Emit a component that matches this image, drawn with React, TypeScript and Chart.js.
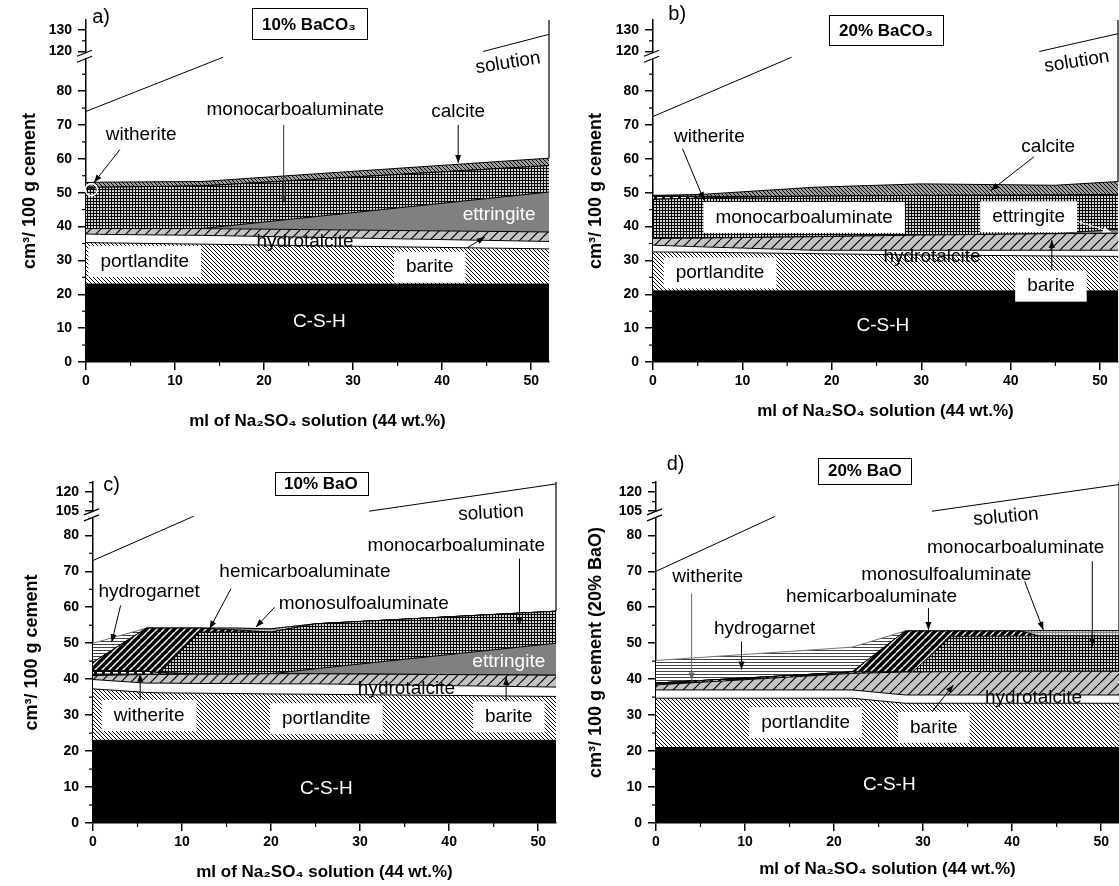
import React, { useEffect, useRef } from "react";
import { Chart, registerables } from "chart.js";

Chart.register(...registerables);

const FONT = '"Liberation Sans", Arial, Helvetica, sans-serif';

// ---------------- shared tick values ----------------
const xMajorTicks = [0, 10, 20, 30, 40, 50];
const xMinorTicks = [5, 15, 25, 35, 45];
const yMajorTicksBaCO3 = [0, 10, 20, 30, 40, 50, 60, 70, 80, 120, 130];
const yMinorTicksBaCO3 = [5, 15, 25, 35, 45, 55, 65, 75, 85, 125];
const yMajorTicksBaO = [0, 10, 20, 30, 40, 50, 60, 70, 80, 105, 120];
const yMinorTicksBaO = [5, 15, 25, 35, 45, 55, 65, 75, 112.5, 127.5];

// ---------------- panel a: 10% BaCO3 (phase volumes, cm3/100 g) ----------------
const xA = [0, 1.5, 13, 52];
const cshA = [23, 23, 23, 23];
const portlanditeA = [12.3, 12.2, 11.8, 10.4];
const hydrotalciteA = [2.5, 2.5, 2.6, 2.2];
const bariteA = [1.6, 1.7, 2.0, 2.8];
const ettringiteA = [0, 0, 0, 11.8];
const monocarboA = [11.6, 12.2, 12.6, 7.8];
const witheriteA = [0.8, 0, 0, 0];
const calciteA = [1.2, 1.5, 1.3, 2.2];
const solutionXA = [0, 15.4, 15.4, 44.6, 52];
const solutionYA: (number | null)[] = [74, 90, null, 120, 128];

// ---------------- panel b: 20% BaCO3 ----------------
const xB = [0, 5.5, 18, 30, 45, 52];
const cshB = [21, 21, 21, 21, 21, 21];
const portlanditeB = [11.5, 11.4, 11.0, 10.6, 10.3, 10.2];
const hydrotalciteB = [2.0, 1.6, 1.0, 1.4, 1.7, 1.8];
const bariteB = [2.0, 2.6, 4.0, 4.5, 4.9, 5.0];
const ettringiteB = [0, 0, 0, 0, 0, 1.2];
const monocarboB = [11.5, 11.9, 12.0, 11.7, 11.4, 10.3];
const witheriteB = [1.2, 0.4, 0, 0, 0, 0];
const calciteB = [0, 0.6, 2.6, 3.4, 2.9, 3.8];
const solutionXB = [0, 15.5, 15.5, 43.2, 52];
const solutionYB: (number | null)[] = [72.5, 90, null, 120, 128.3];

// ---------------- panel c: 10% BaO ----------------
const xC = [0, 6, 7.5, 12, 16, 20, 25, 52];
const cshC = [23, 23, 23, 23, 23, 23, 23, 23];
const portlanditeC = [14.3, 13.3, 13.2, 13.1, 13.0, 12.9, 12.8, 12.2];
const hydrotalciteC = [2.6, 2.6, 2.7, 2.7, 2.8, 2.8, 2.9, 2.6];
const bariteC = [1.1, 2.4, 2.4, 2.6, 2.6, 2.8, 2.8, 3.3];
const witheriteC = [1.3, 0.9, 0.5, 0, 0, 0, 0, 0];
const ettringiteC = [0, 0, 0, 0, 0, 0, 1.4, 8.9];
const monocarboC = [0, 0, 0, 11.7, 11.7, 11.6, 12.5, 8.9];
const hemicarboC = [2.4, 12.0, 12.4, 1.1, 0.6, 0, 0, 0];
const monosulfoC = [0, 0, 0, 0, 0.5, 0.9, 0, 0];
const hydrogarnetC = [5.3, 0, 0, 0, 0, 0, 0, 0];
const solutionXC = [0, 11.3, 11.3, 31, 52];
const solutionYC: (number | null)[] = [73, 85.3, null, 105, 126.5];

// ---------------- panel d: 20% BaO ----------------
const xD = [0, 22, 28, 28.8, 33.2, 41, 43, 52];
const cshD = [21, 21, 21, 21, 21, 21, 21, 21];
const portlanditeD = [13.7, 13.7, 12.3, 12.3, 12.3, 12.3, 12.3, 12.3];
const hydrotalciteD = [2.3, 2.3, 2.3, 2.3, 2.3, 2.3, 2.3, 2.3];
const bariteD = [1.4, 4.6, 6.4, 6.4, 6.5, 6.6, 6.6, 6.6];
const witheriteD = [0.5, 0.4, 0, 0, 0, 0, 0, 0];
const monocarboD = [0, 0, 0, 0, 9.8, 9.8, 9.8, 9.8];
const hemicarboD = [0, 0, 11.4, 11.4, 1.5, 1.4, 0, 0];
const monosulfoD = [0, 0, 0, 0, 0, 0, 1.5, 1.5];
const hydrogarnetD = [6.3, 6.9, 0, 0, 0, 0, 0, 0];
const solutionXD = [0, 13.4, 13.4, 31, 52];
const solutionYD: (number | null)[] = [70, 85.3, null, 105, 126];

// ---------------- broken y axis ----------------
type Brk = { low: number; high: number; factor: number; tMax: number };
const BRK_BACO3: Brk = { low: 90, high: 117.3, factor: 0.632, tMax: 101 };
const BRK_BAO: Brk = { low: 85.4, high: 101.3, factor: 0.353, tMax: 94.83 };
const toT = (y: number, b: Brk) =>
  y <= b.low ? y : y < b.high ? b.low : b.low + (y - b.high) * b.factor;
const fromT = (t: number, b: Brk) =>
  t <= b.low + 1e-6 ? t : b.high + (t - b.low) / b.factor;

// ---------------- layout / annotations ----------------
type Note = { t: string; x: number; y: number; box?: boolean; white?: boolean; rot?: number; size?: number };
type Arrow = [number, number, number, number, string?];
type Layer = [string, number[]];
type Spec = {
  id: string; left: number; top: number; w: number; h: number;
  L: number; R: number; T: number; B: number;
  brk: Brk; yMajor: number[]; yMinor: number[];
  yTitle: string; yTitlePad: number; xTitlePad: number;
  xs: number[]; layers: Layer[]; solX: number[]; solY: (number | null)[];
  title: { t: string; x1: number; x2: number; y1: number; y2: number };
  notes: Note[]; arrows: Arrow[]; circle?: [number, number, number];
};

const PANELS: Spec[] = [
  {
    id: "a", left: 0, top: 0, w: 560, h: 443, L: 86, R: 549, T: 20, B: 362,
    brk: BRK_BACO3, yMajor: yMajorTicksBaCO3, yMinor: yMinorTicksBaCO3,
    yTitle: "cm³/ 100 g cement", yTitlePad: 19, xTitlePad: 11,
    xs: xA,
    layers: [["csh", cshA], ["portlandite", portlanditeA], ["hydrotalcite", hydrotalciteA], ["barite", bariteA],
      ["ettringite", ettringiteA], ["monocarbo", monocarboA], ["witherite", witheriteA], ["calcite", calciteA]],
    solX: solutionXA, solY: solutionYA,
    title: { t: "10% BaCO₃", x1: 18.6, x2: 31.5, y1: 104.5, y2: 95.2 },
    notes: [
      { t: "a)", x: 1.7, y: 101.7, size: 20 },
      { t: "monocarboaluminate", x: 23.5, y: 74.5 },
      { t: "calcite", x: 41.8, y: 74 },
      { t: "witherite", x: 6.2, y: 67.1 },
      { t: "ettringite", x: 46.4, y: 43.5, white: true },
      { t: "hydrotalcite", x: 24.6, y: 35.6 },
      { t: "portlandite", x: 6.6, y: 29.7, box: true },
      { t: "barite", x: 38.6, y: 28, box: true },
      { t: "C-S-H", x: 26.2, y: 12, white: true },
      { t: "solution", x: 47.4, y: 88.3, rot: -9 },
    ],
    arrows: [[22.2, 70, 22.2, 47, "#333"], [41.8, 70, 41.8, 58.8], [3.8, 62.7, 0.9, 53], [42.8, 33.7, 44.8, 36.9]],
    circle: [0.6, 50.9, 6],
  },
  {
    id: "b", left: 560, top: 0, w: 559, h: 443, L: 93, R: 558, T: 20, B: 362,
    brk: BRK_BACO3, yMajor: yMajorTicksBaCO3, yMinor: yMinorTicksBaCO3,
    yTitle: "cm³/ 100 g cement", yTitlePad: 25, xTitlePad: 21,
    xs: xB,
    layers: [["csh", cshB], ["portlandite", portlanditeB], ["hydrotalcite", hydrotalciteB], ["barite", bariteB],
      ["ettringite", ettringiteB], ["monocarbo", monocarboB], ["witherite", witheriteB], ["calcite", calciteB]],
    solX: solutionXB, solY: solutionYB,
    title: { t: "20% BaCO₃", x1: 19.7, x2: 32.4, y1: 102.5, y2: 93.6 },
    notes: [
      { t: "b)", x: 2.7, y: 102.5, size: 20 },
      { t: "witherite", x: 6.3, y: 66.5 },
      { t: "calcite", x: 44.2, y: 63.5 },
      { t: "monocarboaluminate", x: 16.9, y: 42.7, box: true },
      { t: "ettringite", x: 42, y: 42.9, box: true },
      { t: "hydrotalcite", x: 31.2, y: 31.0 },
      { t: "portlandite", x: 7.5, y: 26.3, box: true },
      { t: "barite", x: 44.5, y: 22.4, box: true },
      { t: "C-S-H", x: 25.7, y: 10.8, white: true },
      { t: "solution", x: 47.4, y: 88.7, rot: -9 },
    ],
    arrows: [[3.3, 63, 5.7, 47.8], [42.6, 60.6, 37.8, 50.7], [47, 41.9, 51.2, 38.4, "#fff"], [44.6, 27.3, 44.6, 36]],
  },
  {
    id: "c", left: 0, top: 443, w: 560, h: 443, L: 93, R: 556, T: 39, B: 380,
    brk: BRK_BAO, yMajor: yMajorTicksBaO, yMinor: yMinorTicksBaO,
    yTitle: "cm³/ 100 g cement", yTitlePad: 21, xTitlePad: 3,
    xs: xC,
    layers: [["csh", cshC], ["portlandite", portlanditeC], ["hydrotalcite", hydrotalciteC], ["barite", bariteC],
      ["witherite", witheriteC], ["ettringite", ettringiteC], ["monocarbo", monocarboC], ["hemicarbo", hemicarboC],
      ["monosulfo", monosulfoC], ["hydrogarnet", hydrogarnetC]],
    solX: solutionXC, solY: solutionYC,
    title: { t: "10% BaO", x1: 20.4, x2: 30.8, y1: 97.6, y2: 91.1 },
    notes: [
      { t: "c)", x: 2.1, y: 93.9, size: 20 },
      { t: "solution", x: 44.7, y: 86.2, rot: -3 },
      { t: "monocarboaluminate", x: 40.8, y: 77.2 },
      { t: "hemicarboaluminate", x: 23.8, y: 69.8 },
      { t: "monosulfoaluminate", x: 30.4, y: 61 },
      { t: "hydrogarnet", x: 6.3, y: 64.2 },
      { t: "ettringite", x: 46.7, y: 44.8, white: true },
      { t: "hydrotalcite", x: 35.2, y: 37.3 },
      { t: "witherite", x: 6.3, y: 29.9, box: true },
      { t: "portlandite", x: 26.2, y: 29, box: true },
      { t: "barite", x: 46.7, y: 29.5, box: true },
      { t: "C-S-H", x: 26.2, y: 9.5, white: true },
    ],
    arrows: [[47.9, 73.5, 47.9, 55], [15.5, 65.2, 13.1, 54], [20.4, 60, 18.3, 54.5], [3.1, 60.5, 2.1, 50.3],
      [5.3, 34.6, 5.3, 41.5], [46.4, 34.1, 46.4, 40.6]],
  },
  {
    id: "d", left: 560, top: 443, w: 559, h: 443, L: 96, R: 559, T: 39, B: 380,
    brk: BRK_BAO, yMajor: yMajorTicksBaO, yMinor: yMinorTicksBaO,
    yTitle: "cm³/ 100 g cement (20% BaO)", yTitlePad: 25, xTitlePad: 6,
    xs: xD,
    layers: [["csh", cshD], ["portlandite", portlanditeD], ["hydrotalcite", hydrotalciteD], ["barite", bariteD],
      ["witherite", witheriteD], ["monocarbo", monocarboD], ["hemicarbo", hemicarboD],
      ["monosulfo", monosulfoD], ["hydrogarnet", hydrogarnetD]],
    solX: solutionXD, solY: solutionYD,
    title: { t: "20% BaO", x1: 18.2, x2: 28.7, y1: 101.6, y2: 94.3 },
    notes: [
      { t: "d)", x: 2.2, y: 99.7, size: 20 },
      { t: "solution", x: 39.3, y: 85.1, rot: -5 },
      { t: "monocarboaluminate", x: 40.4, y: 76.5 },
      { t: "monosulfoaluminate", x: 32.6, y: 69 },
      { t: "hemicarboaluminate", x: 24.2, y: 62.8 },
      { t: "witherite", x: 5.8, y: 68.6 },
      { t: "hydrogarnet", x: 12.2, y: 53.9 },
      { t: "portlandite", x: 16.8, y: 27.9, box: true },
      { t: "barite", x: 31.2, y: 26.6, box: true },
      { t: "hydrotalcite", x: 42.4, y: 34.7 },
      { t: "C-S-H", x: 26.2, y: 10.5, white: true },
    ],
    arrows: [[49, 72.8, 49, 49], [41.4, 67.2, 43.5, 53.7], [30.6, 59.8, 30.6, 53.7], [4, 63.9, 4, 39.6, "#666"],
      [9.6, 50.5, 9.6, 42.7], [31, 30.9, 33.4, 38.4]],
  },
];

// ---------------- fill patterns ----------------
function tile(w: number, h: number, bg: string, draw: (g: CanvasRenderingContext2D) => void): CanvasPattern {
  const c = document.createElement("canvas");
  c.width = w;
  c.height = h;
  const g = c.getContext("2d")!;
  g.fillStyle = bg;
  g.fillRect(0, 0, w, h);
  draw(g);
  return g.createPattern(c, "repeat")!;
}
function diag(g: CanvasRenderingContext2D, s: number, fwd: boolean, color: string, lw: number) {
  g.strokeStyle = color;
  g.lineWidth = lw;
  for (const k of [-s, 0, s]) {
    g.beginPath();
    if (fwd) { g.moveTo(k, s); g.lineTo(k + s, 0); } else { g.moveTo(k, 0); g.lineTo(k + s, s); }
    g.stroke();
  }
}
function makePatterns(): Record<string, string | CanvasPattern> {
  return {
    csh: "#000",
    portlandite: tile(4, 4, "#fff", (g) => diag(g, 4, false, "#000", 1)),
    hydrotalcite: "#fff",
    barite: tile(10, 10, "#c4c4c4", (g) => diag(g, 10, true, "#000", 1.2)),
    ettringite: "#808080",
    monocarbo: tile(3, 3, "#d0d0d0", (g) => { g.fillStyle = "#000"; g.fillRect(0, 0, 3, 1); g.fillRect(0, 0, 1, 3); }),
    witherite: tile(8, 4, "#111", (g) => { g.fillStyle = "#fff"; g.fillRect(1, 1, 5, 1.5); }),
    calcite: tile(4, 4, "#9c9c9c", (g) => diag(g, 4, false, "#000", 1)),
    hemicarbo: tile(7, 7, "#000", (g) => diag(g, 7, true, "#fff", 1.4)),
    monosulfo: tile(3, 3, "#e8e8e8", (g) => { g.fillStyle = "#888"; g.fillRect(0, 0, 3, 1); g.fillRect(0, 0, 1, 3); }),
    hydrogarnet: tile(4, 3, "#fff", (g) => { g.fillStyle = "#444"; g.fillRect(0, 0, 4, 1); }),
  };
}

// ---------------- drawing helpers ----------------
function drawArrow(ctx: CanvasRenderingContext2D, x1: number, y1: number, x2: number, y2: number, color: string) {
  ctx.strokeStyle = color;
  ctx.fillStyle = color;
  ctx.lineWidth = 1;
  ctx.beginPath();
  ctx.moveTo(x1, y1);
  ctx.lineTo(x2, y2);
  ctx.stroke();
  const a = Math.atan2(y2 - y1, x2 - x1);
  const L = 8, W = 3;
  ctx.beginPath();
  ctx.moveTo(x2, y2);
  ctx.lineTo(x2 - L * Math.cos(a) + W * Math.sin(a), y2 - L * Math.sin(a) - W * Math.cos(a));
  ctx.lineTo(x2 - L * Math.cos(a) - W * Math.sin(a), y2 - L * Math.sin(a) + W * Math.cos(a));
  ctx.closePath();
  ctx.fill();
}

function makeNotesPlugin(p: Spec) {
  return {
    id: "notes" + p.id,
    afterDraw(chart: any) {
      const ctx: CanvasRenderingContext2D = chart.ctx;
      const xs = chart.scales.x, ys = chart.scales.y;
      const X = (v: number) => xs.getPixelForValue(v);
      const Y = (t: number) => ys.getPixelForValue(t);
      const area = chart.chartArea;
      const ax = area.left, bx = area.bottom;
      const line = (x1: number, y1: number, x2: number, y2: number) => {
        ctx.beginPath(); ctx.moveTo(x1, y1); ctx.lineTo(x2, y2); ctx.stroke();
      };
      ctx.save();
      // minor ticks
      ctx.strokeStyle = "#000";
      ctx.lineWidth = 1.2;
      for (const m of p.yMinor) {
        const t = toT(m, p.brk);
        if (t > p.brk.tMax + 0.01) continue;
        const yy = Y(t);
        line(ax - 4, yy, ax, yy);
      }
      for (const m of xMinorTicks) {
        const xx = X(m);
        line(xx, bx, xx, bx + 4);
      }
      // axis break marks
      const yb = Y(p.brk.low);
      ctx.fillStyle = "#fff";
      ctx.fillRect(ax - 2, yb - 4, 4, 5);
      ctx.strokeStyle = "#000";
      ctx.lineWidth = 1.2;
      line(ax - 9, yb - 1, ax + 6, yb - 7);
      line(ax - 9, yb + 5, ax + 6, yb - 1);
      // arrows
      for (const a of p.arrows) drawArrow(ctx, X(a[0]), Y(a[1]), X(a[2]), Y(a[3]), a[4] || "#000");
      // circle marker
      if (p.circle) {
        const [cx, cy, r] = p.circle;
        ctx.strokeStyle = "#fff";
        ctx.lineWidth = 1.5;
        ctx.beginPath();
        ctx.arc(X(cx), Y(cy), r, 0, Math.PI * 2);
        ctx.stroke();
      }
      // labels
      ctx.textAlign = "center";
      ctx.textBaseline = "middle";
      for (const n of p.notes) {
        const size = n.size || 19;
        ctx.font = `${size}px ${FONT}`;
        const px = X(n.x), py = Y(n.y);
        if (n.box) {
          const w = ctx.measureText(n.t).width;
          ctx.fillStyle = "#fff";
          ctx.fillRect(px - w / 2 - 12, py - size / 2 - 6, w + 24, size + 12);
        }
        ctx.fillStyle = n.white ? "#fff" : "#000";
        if (n.rot) {
          ctx.save();
          ctx.translate(px, py);
          ctx.rotate((n.rot * Math.PI) / 180);
          ctx.fillText(n.t, 0, 0);
          ctx.restore();
        } else {
          ctx.fillText(n.t, px, py);
        }
      }
      // title box
      const tb = p.title;
      const bx1 = X(tb.x1), bx2 = X(tb.x2), by1 = Y(tb.y1), by2 = Y(tb.y2);
      ctx.fillStyle = "#fff";
      ctx.fillRect(bx1, by1, bx2 - bx1, by2 - by1);
      ctx.strokeStyle = "#000";
      ctx.lineWidth = 1;
      ctx.strokeRect(Math.round(bx1) + 0.5, Math.round(by1) + 0.5, Math.round(bx2 - bx1), Math.round(by2 - by1));
      ctx.fillStyle = "#000";
      ctx.font = `bold 17px ${FONT}`;
      ctx.fillText(tb.t, (bx1 + bx2) / 2, (by1 + by2) / 2 + 1);
      ctx.restore();
    },
  };
}

function buildConfig(p: Spec): any {
  const P = makePatterns();
  const b = p.brk;
  const datasets: any[] = p.layers.map(([name, vals], i) => ({
    label: name,
    data: p.xs.map((x, j) => ({ x, y: vals[j] })),
    yAxisID: "y",
    stack: "solids",
    fill: i === 0 ? "origin" : "-1",
    backgroundColor: P[name],
    borderColor: name === "hydrogarnet" ? "#777" : "#000",
    borderWidth: 1,
    pointRadius: 0,
    tension: 0,
  }));
  const solidsTopAtEnd = p.layers.reduce((s, [, vals]) => s + vals[vals.length - 1], 0);
  datasets.push({
    label: "solution",
    data: p.solX.map((x, j) => ({ x, y: p.solY[j] == null ? null : toT(p.solY[j] as number, b) })),
    yAxisID: "yr",
    fill: false,
    borderColor: "#000",
    borderWidth: 1,
    pointRadius: 0,
    spanGaps: false,
  });
  datasets.push({
    label: "solution edge",
    data: [{ x: 52, y: solidsTopAtEnd }, { x: 52, y: b.tMax }],
    yAxisID: "yr",
    fill: false,
    borderColor: "#000",
    borderWidth: 1.2,
    pointRadius: 0,
    clip: false,
  });

  const tickFont = { family: FONT, size: 14, weight: "bold" as const };
  return {
    type: "line",
    data: { datasets },
    options: {
      responsive: false,
      animation: false,
      events: [],
      layout: { padding: { left: 0, top: p.T, right: p.w - p.R, bottom: 0 } },
      plugins: { legend: { display: false }, tooltip: { enabled: false } },
      scales: {
        x: {
          type: "linear", min: 0, max: 52, z: 1,
          afterBuildTicks: (s: any) => { s.ticks = xMajorTicks.map((v) => ({ value: v })); },
          afterFit: (s: any) => { s.height = p.h - p.B; },
          ticks: { font: tickFont, color: "#000", padding: 3, maxRotation: 0, autoSkip: false },
          grid: { drawOnChartArea: false, drawTicks: true, tickLength: 8, color: "#000", lineWidth: 1.5 },
          border: { display: true, color: "#000", width: 1.5 },
          title: {
            display: true, text: "ml of Na₂SO₄ solution (44 wt.%)", color: "#000",
            font: { family: FONT, size: 17, weight: "bold" }, padding: { top: 0, bottom: p.xTitlePad },
          },
        },
        y: {
          type: "linear", min: 0, max: b.tMax, stacked: true, z: 1,
          afterBuildTicks: (s: any) => { s.ticks = p.yMajor.map((v) => ({ value: toT(v, b) })); },
          afterFit: (s: any) => { s.width = p.L; },
          ticks: {
            font: tickFont, color: "#000", padding: 6, autoSkip: false,
            callback: (v: any) => String(Math.round(fromT(Number(v), b))),
          },
          grid: { drawOnChartArea: false, drawTicks: true, tickLength: 8, color: "#000", lineWidth: 1.5 },
          border: { display: true, color: "#000", width: 1.5 },
          title: {
            display: true, text: p.yTitle, color: "#000",
            font: { family: FONT, size: 18, weight: "bold" }, padding: { top: p.yTitlePad, bottom: 0 },
          },
        },
        yr: { type: "linear", display: false, position: "right", min: 0, max: b.tMax },
      },
    },
    plugins: [makeNotesPlugin(p)],
  };
}

function Panel({ spec }: { spec: Spec }) {
  const ref = useRef<HTMLCanvasElement>(null);
  useEffect(() => {
    const chart = new Chart(ref.current as HTMLCanvasElement, buildConfig(spec));
    return () => chart.destroy();
  }, [spec]);
  return (
    <canvas
      ref={ref}
      width={spec.w}
      height={spec.h}
      style={{ position: "absolute", left: spec.left, top: spec.top, width: spec.w, height: spec.h }}
    />
  );
}

export default function App() {
  return (
    <div style={{ position: "absolute", left: 0, top: 0, width: 1119, height: 886, background: "#fff", overflow: "hidden" }}>
      {PANELS.map((p) => (
        <Panel key={p.id} spec={p} />
      ))}
    </div>
  );
}
